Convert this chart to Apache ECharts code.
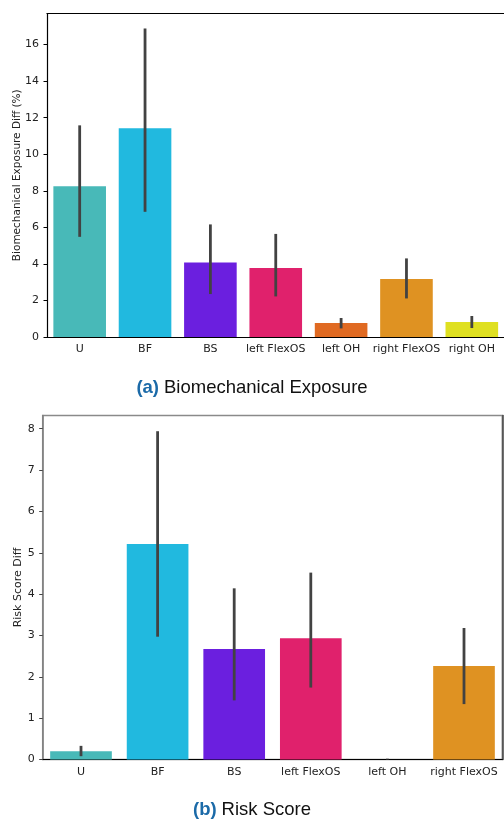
<!DOCTYPE html>
<html>
<head>
<meta charset="utf-8">
<script src="https://cdn.jsdelivr.net/npm/echarts@6/dist/echarts.min.js"></script>
<style>
  html, body { margin: 0; padding: 0; background: #fff; }
  #chart { width: 504px; height: 820px; }
</style>
</head>
<body>
<div id="chart"></div>
<script>
// categories
const catsTop = ['U', 'BF', 'BS', 'left FlexOS', 'left OH', 'right FlexOS', 'right OH'];
const catsBottom = ['U', 'BF', 'BS', 'left FlexOS', 'left OH', 'right FlexOS'];
const barColors = ['#48b9b8', '#21b9df', '#6b1fdf', '#e0216c', '#e06a22', '#df9222', '#dfe021'];

// (a) biomechanical exposure diff (%)
const exposureMean = [8.25, 11.42, 4.08, 3.77, 0.76, 3.17, 0.82];
const exposureLow = [5.48, 6.85, 2.35, 2.22, 0.47, 2.11, 0.49];
const exposureHigh = [11.58, 16.88, 6.16, 5.64, 1.04, 4.3, 1.15];
const exposureTicks = [0, 2, 4, 6, 8, 10, 12, 14, 16];

// (b) risk score diff
const riskMean = [0.2, 5.21, 2.67, 2.93, 0, 2.26];
const riskLow = [0.08, 2.97, 1.43, 1.74, 0, 1.34];
const riskHigh = [0.33, 7.94, 4.14, 4.52, 0.02, 3.18];
const riskTicks = [0, 1, 2, 3, 4, 5, 6, 7, 8];

let myChart = echarts.init(document.getElementById('chart'));

const tickFont = { fontFamily: 'DejaVu Sans', fontSize: 11, color: '#222' };

function errorBar(lo, hi, xi, yi) {
  return {
    type: 'custom',
    xAxisIndex: xi,
    yAxisIndex: yi,
    z: 5,
    data: lo.map((v, i) => [i, v, hi[i]]),
    renderItem: function (params, api) {
      let a = api.coord([api.value(0), api.value(1)]);
      let b = api.coord([api.value(0), api.value(2)]);
      return {
        type: 'line',
        shape: { x1: a[0], y1: a[1], x2: b[0], y2: b[1] },
        style: { stroke: '#424242', lineWidth: 2.8 }
      };
    }
  };
}

function bars(values, xi, yi) {
  return {
    type: 'bar',
    xAxisIndex: xi,
    yAxisIndex: yi,
    barCategoryGap: '19.5%',
    data: values.map((v, i) => ({ value: v, itemStyle: { color: barColors[i] } }))
  };
}

function caption(tag, text, top) {
  return {
    text: '{a|' + tag + '} {t|' + text + '}',
    left: 'center',
    top: top,
    textStyle: {
      rich: {
        a: { fontFamily: 'Liberation Sans', fontSize: 18.5, fontWeight: 'bold', color: '#1b6aa8' },
        t: { fontFamily: 'Liberation Sans', fontSize: 18.5, fontWeight: 'normal', color: '#111' }
      }
    }
  };
}

let option = {
  animation: false,
  title: [
    caption('(a)', 'Biomechanical Exposure', 373),
    caption('(b)', 'Risk Score', 795)
  ],
  grid: [
    { left: 47, top: 13.5, width: 457.5, height: 323.5, outerBoundsMode: 'none' },
    { left: 42.7, top: 415.5, width: 459.6, height: 344, outerBoundsMode: 'none',
      show: true, borderColor: '#8a8a8a', borderWidth: 1.5 }
  ],
  xAxis: [
    {
      type: 'category', gridIndex: 0, data: catsTop,
      axisLine: { lineStyle: { color: '#000', width: 1.2 } },
      axisTick: { alignWithLabel: true, length: 3.5, lineStyle: { color: '#000' } },
      axisLabel: Object.assign({ margin: 7, interval: 0 }, tickFont)
    },
    {
      type: 'category', gridIndex: 1, data: catsBottom,
      axisLine: { lineStyle: { color: '#000', width: 1.2 } },
      axisTick: { alignWithLabel: true, length: 3.5, lineStyle: { color: '#000' } },
      axisLabel: Object.assign({ margin: 7, interval: 0 }, tickFont)
    },
    {
      // top spine of the upper panel
      type: 'category', gridIndex: 0, data: catsTop, position: 'top',
      axisLine: { lineStyle: { color: '#000', width: 1.2 } },
      axisTick: { show: false },
      axisLabel: { show: false }
    }
  ],
  yAxis: [
    {
      type: 'value', gridIndex: 0, min: 0, max: 17.7, interval: 2,
      name: 'Biomechanical Exposure Diff (%)', nameLocation: 'middle', nameGap: 24,
      nameMoveOverlap: false,
      nameTextStyle: { fontFamily: 'DejaVu Sans', fontSize: 10.5, color: '#222' },
      splitLine: { show: false },
      axisLine: { show: true, lineStyle: { color: '#000', width: 1.2 } },
      axisTick: { show: true, length: 3.5, customValues: exposureTicks, lineStyle: { color: '#000' } },
      axisLabel: Object.assign({ margin: 8, customValues: exposureTicks }, tickFont)
    },
    {
      type: 'value', gridIndex: 1, min: 0, max: 8.32, interval: 1,
      name: 'Risk Score Diff', nameLocation: 'middle', nameGap: 19,
      nameMoveOverlap: false,
      nameTextStyle: { fontFamily: 'DejaVu Sans', fontSize: 11, color: '#222' },
      splitLine: { show: false },
      axisLine: { show: true, lineStyle: { color: '#808080', width: 1.5 } },
      axisTick: { show: true, length: 3.5, customValues: riskTicks, lineStyle: { color: '#444' } },
      axisLabel: Object.assign({ margin: 8, customValues: riskTicks }, tickFont)
    },
    {
      type: 'value', gridIndex: 1, min: 0, max: 8.32, position: 'right',
      splitLine: { show: false },
      axisLine: { show: true, lineStyle: { color: '#444', width: 1.5 } },
      axisTick: { show: false },
      axisLabel: { show: false }
    }
  ],
  series: [
    bars(exposureMean, 0, 0),
    errorBar(exposureLow, exposureHigh, 0, 0),
    bars(riskMean, 1, 1),
    errorBar(riskLow, riskHigh, 1, 1)
  ]
};

myChart.setOption(option);
</script>
</body>
</html>
